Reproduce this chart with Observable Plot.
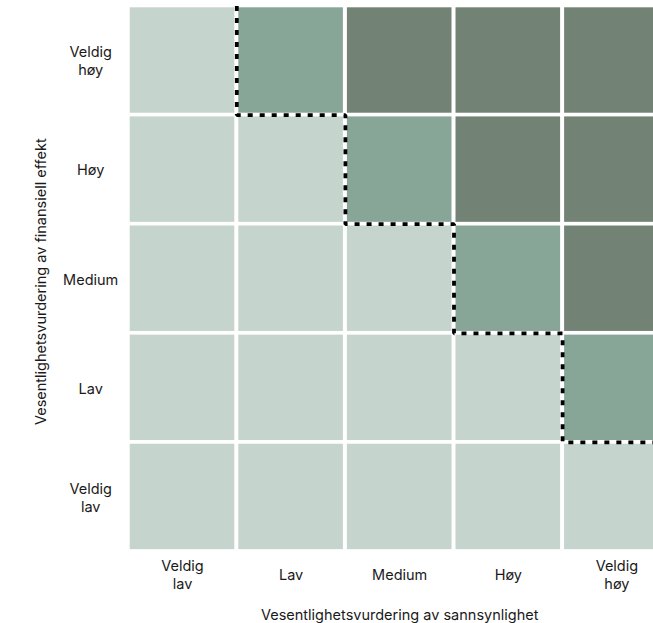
<!DOCTYPE html>
<html>
<head>
<meta charset="utf-8">
<script src="https://cdn.jsdelivr.net/npm/d3@7"></script>
<script src="https://cdn.jsdelivr.net/npm/@observablehq/plot@0.6"></script>
<style>
  html, body { margin: 0; padding: 0; background: #fff; overflow: hidden; }
  #chart svg { overflow: hidden; display: block; font-family: "Inter", sans-serif; }
</style>
</head>
<body>
<div id="chart"></div>
<script>
// Columns (x): likelihood, left to right
const colLabels = ["Veldig\nlav", "Lav", "Medium", "Høy", "Veldig\nhøy"];
// Rows (y): financial effect, bottom to top
const rowLabels = ["Veldig\nlav", "Lav", "Medium", "Høy", "Veldig\nhøy"];
// Level per cell, rows listed top (Veldig høy) to bottom (Veldig lav)
const levelsTopDown = [
  ["lav", "middels", "høy", "høy", "høy"],
  ["lav", "lav", "middels", "høy", "høy"],
  ["lav", "lav", "lav", "middels", "høy"],
  ["lav", "lav", "lav", "lav", "middels"],
  ["lav", "lav", "lav", "lav", "lav"]
];
const levelNames = ["lav", "middels", "høy"];
const levelColors = ["#c5d4cc", "#88a698", "#728376"];
// Staircase threshold line along cell boundaries (column index, row index from bottom)
const stairX = [1, 1, 2, 2, 3, 3, 4, 4, 5];
const stairY = [5, 4, 4, 3, 3, 2, 2, 1, 1];
const xTitle = "Vesentlighetsvurdering av sannsynlighet";
const yTitle = "Vesentlighetsvurdering av finansiell effekt";

const n = colLabels.length;
const cells = [];
levelsTopDown.forEach((row, r) => {
  const yi = n - 1 - r;
  row.forEach((lvl, c) => {
    cells.push({x1: c, x2: c + 1, y1: yi, y2: yi + 1, fill: levelColors[levelNames.indexOf(lvl)]});
  });
});
const stair = stairX.map((x, i) => ({x, y: stairY[i]}));
const tickPos = colLabels.map((_, i) => i + 0.5);

const fs = 14.5;

const chart = Plot.plot({
  width: 653,
  height: 623,
  marginLeft: 127.7,
  marginRight: -17.7,
  marginTop: 5.45,
  marginBottom: 72,
  style: {fontFamily: "Inter, sans-serif", fontSize: fs + "px", color: "#1a1a1a", background: "#fff"},
  x: {type: "linear", domain: [0, n], axis: null},
  y: {type: "linear", domain: [0, n], axis: null},
  marks: [
    Plot.rect(cells, {
      x1: "x1", x2: "x2", y1: "y1", y2: "y2", fill: "fill",
      insetLeft: 2, insetRight: 2, insetTop: 1.85, insetBottom: 1.85
    }),
    Plot.line(stair, {
      x: "x", y: "y", stroke: "#000", strokeWidth: 3.8,
      strokeDasharray: "5,7", strokeLinecap: "butt", strokeLinejoin: "miter"
    }),
    Plot.axisX({
      ticks: tickPos, tickFormat: (d) => colLabels[Math.floor(d)],
      tickSize: 0, tickPadding: 23, lineAnchor: "middle", lineHeight: 1.25,
      label: null, fontSize: fs
    }),
    Plot.axisY({
      ticks: tickPos, tickFormat: (d) => rowLabels[Math.floor(d)],
      tickSize: 0, tickPadding: 37.5, textAnchor: "middle", lineHeight: 1.25,
      label: null, fontSize: fs
    }),
    Plot.text([xTitle], {
      frameAnchor: "bottom", text: (d) => d, textAnchor: "middle",
      lineAnchor: "middle", dy: 64, fontSize: fs
    }),
    Plot.text([yTitle], {
      frameAnchor: "left", text: (d) => d, textAnchor: "middle",
      lineAnchor: "middle", rotate: -90, dx: -87, dy: 3, fontSize: fs
    })
  ]
});
document.getElementById("chart").appendChild(chart);
</script>
</body>
</html>
